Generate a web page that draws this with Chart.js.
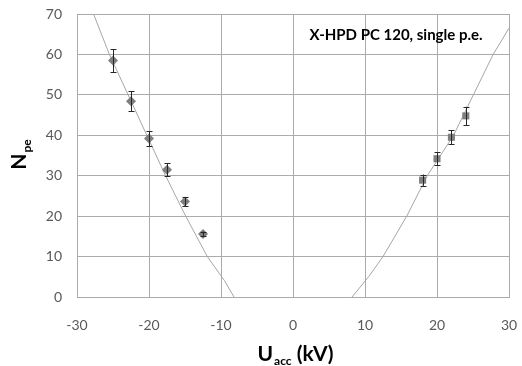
<!DOCTYPE html>
<html>
<head>
<meta charset="utf-8">
<script src="https://cdn.jsdelivr.net/npm/chart.js@4"></script>
<style>
  html, body { margin: 0; padding: 0; background: #fff; }
  #wrap { width: 522px; height: 366px; }
</style>
</head>
<body>
<div id="wrap"><canvas id="chart" width="522" height="366"></canvas></div>
<script>
// measured points, negative voltage (diamonds)
const negU = [-25, -22.5, -20, -17.5, -15, -12.5];
const negN = [58.5, 48.4, 39.2, 31.5, 23.6, 15.6];
const negErr = [2.85, 2.45, 1.85, 1.6, 1.15, 0.6];

// positive voltage (squares)
const posU = [18, 20, 22, 24];
const posN = [28.9, 34.2, 39.5, 44.8];
const posErr = [1.4, 1.6, 1.7, 2.25];

// fit curves
const negFitU = [-27.7, -25.5, -22.9, -20.3, -17.7, -14.9, -11.9, -9.5, -8.2];
const negFitN = [70, 60, 50, 40, 30, 20, 10, 4, 0];
const posFitU = [8.2, 10.5, 12.5, 15.8, 18.65, 22.3, 25.05, 27.8, 30];
const posFitN = [0, 5, 10, 20, 30, 40, 50, 60, 66.5];

const xTicks = [-30, -20, -10, 0, 10, 20, 30];
const yTicks = [0, 10, 20, 30, 40, 50, 60, 70];

const chartTitle = 'X-HPD PC 120, single p.e.';

const toXY = (xs, ys) => xs.map((x, i) => ({ x: x, y: ys[i] }));

const gridColor = '#ababab';
const tickColor = '#595959';
const markColor = '#7f7f7f';

const errorBars = {
  id: 'errorBars',
  afterDatasetsDraw(chart) {
    const ctx = chart.ctx;
    const xs = chart.scales.x, ys = chart.scales.y;
    const sets = [[negU, negN, negErr], [posU, posN, posErr]];
    ctx.save();
    ctx.strokeStyle = '#262626';
    ctx.lineWidth = 1;
    sets.forEach(([u, n, e]) => {
      u.forEach((v, i) => {
        const px = Math.round(xs.getPixelForValue(v)) + 0.5;
        const top = ys.getPixelForValue(n[i] + e[i]);
        const bot = ys.getPixelForValue(n[i] - e[i]);
        ctx.beginPath();
        ctx.moveTo(px, top); ctx.lineTo(px, bot);
        ctx.moveTo(px - 3, Math.round(top) + 0.5); ctx.lineTo(px + 3, Math.round(top) + 0.5);
        ctx.moveTo(px - 3, Math.round(bot) + 0.5); ctx.lineTo(px + 3, Math.round(bot) + 0.5);
        ctx.stroke();
      });
    });
    ctx.restore();
  }
};

const labels = {
  id: 'labels',
  afterDraw(chart) {
    const ctx = chart.ctx;
    ctx.save();
    ctx.fillStyle = '#000';
    ctx.textBaseline = 'alphabetic';

    // annotation
    ctx.font = 'bold 15px Lato';
    ctx.textAlign = 'center';
    ctx.fillText(chartTitle, 396, 40);

    // x axis title U_acc (kV)
    ctx.textAlign = 'left';
    const big = 'bold 21px Lato', small = 'bold 12px Lato';
    ctx.font = big;
    const wU = ctx.measureText('U').width;
    const wK = ctx.measureText(' (kV)').width;
    ctx.font = small;
    const wA = ctx.measureText('acc').width;
    let x0 = 295 - (wU + wA + wK) / 2;
    ctx.font = big; ctx.fillText('U', x0, 361);
    ctx.font = small; ctx.fillText('acc', x0 + wU + 1, 365);
    ctx.font = big; ctx.fillText(' (kV)', x0 + wU + wA + 1, 361);

    // y axis title N_pe
    ctx.translate(26, 155);
    ctx.rotate(-Math.PI / 2);
    ctx.font = big;
    const wN = ctx.measureText('N').width;
    ctx.font = small;
    const wP = ctx.measureText('pe').width;
    const s = -(wN + wP) / 2;
    ctx.font = big; ctx.fillText('N', s, 0);
    ctx.font = small; ctx.fillText('pe', s + wN + 1, 5);
    ctx.restore();
  }
};

new Chart(document.getElementById('chart'), {
  type: 'scatter',
  data: {
    datasets: [
      {
        type: 'line', data: toXY(negFitU, negFitN), borderColor: '#a6a6a6', borderWidth: 1,
        pointRadius: 0, tension: 0, order: 2
      },
      {
        type: 'line', data: toXY(posFitU, posFitN), borderColor: '#a6a6a6', borderWidth: 1,
        pointRadius: 0, tension: 0, order: 2
      },
      {
        data: toXY(negU, negN), pointStyle: 'rectRot', pointRadius: 5,
        backgroundColor: markColor, borderColor: markColor, borderWidth: 0, order: 1
      },
      {
        data: toXY(posU, posN), pointStyle: 'rect', pointRadius: 5,
        backgroundColor: markColor, borderColor: markColor, borderWidth: 0, order: 1
      }
    ]
  },
  options: {
    responsive: false,
    animation: false,
    events: [],
    layout: { padding: { left: 0, right: 13, top: 14, bottom: 0 } },
    plugins: { legend: { display: false }, tooltip: { enabled: false } },
    scales: {
      x: {
        type: 'linear', min: -30, max: 30,
        afterBuildTicks: s => { s.ticks = xTicks.map(v => ({ value: v })); },
        afterFit: s => { s.height = 69; s.paddingLeft = 0; s.paddingRight = 0; },
        grid: { color: gridColor, drawTicks: false },
        border: { color: gridColor },
        ticks: { color: tickColor, font: { family: 'Lato', size: 14 }, padding: 20 }
      },
      y: {
        type: 'linear', min: 0, max: 70,
        afterBuildTicks: s => { s.ticks = yTicks.map(v => ({ value: v })); },
        afterFit: s => { s.width = 77; s.paddingTop = 0; s.paddingBottom = 0; },
        grid: { color: gridColor, drawTicks: false },
        border: { color: gridColor },
        ticks: { color: tickColor, font: { family: 'Lato', size: 14 }, padding: 15 }
      }
    }
  },
  plugins: [errorBars, labels]
});
</script>
</body>
</html>
